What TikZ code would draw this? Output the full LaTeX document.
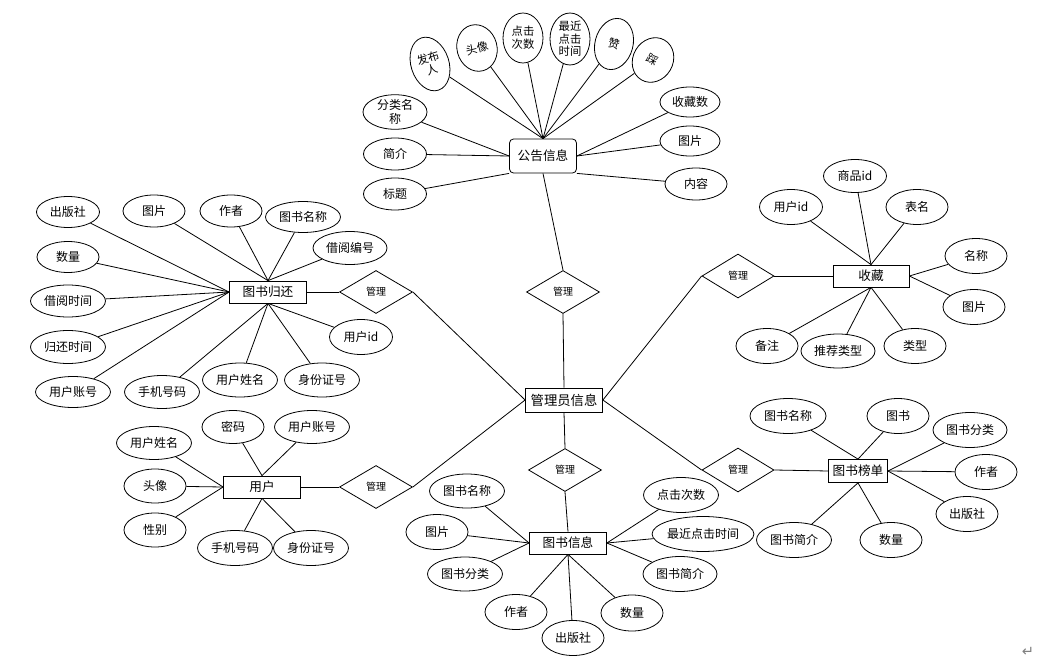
\documentclass[tikz,border=0pt]{standalone}
\usepackage{fontspec}
\setmainfont{Noto Sans CJK SC}
\newfontfamily\symfont{DejaVu Sans}
\usetikzlibrary{shapes.geometric}
\newdimen\px \px=0.75pt
\tikzset{
  attr/.style={ellipse,draw,line width=0.6pt,minimum width=62\px,minimum height=34\px,
    inner sep=0pt,align=center,font=\fontsize{9}{10}\selectfont},
  ent/.style={rectangle,draw,line width=0.6pt,minimum width=77\px,minimum height=22\px,
    inner sep=0pt,font=\fontsize{9.5}{11}\selectfont},
  rel/.style={diamond,draw,line width=0.6pt,minimum width=73\px,minimum height=43\px,
    inner sep=0pt,font=\fontsize{7.5}{8}\selectfont},
  conn/.style={line width=0.6pt},
}
\begin{document}
\begin{tikzpicture}[x=0.75pt,y=-0.75pt]
    \useasboundingbox (0,0) rectangle (1047,671);
    % --- centro: amministratore e relazioni ---
    \node[ent,minimum height=24\px,font=\fontsize{10}{12}\selectfont] (gly) at (564,400) {管理员信息};
    \node[rel] (r0) at (563,292) {管理};
    \node[rel] (r1) at (376,292) {管理};
    \node[rel] (r2) at (376,487) {管理};
    \node[rel] (r3) at (565,470) {管理};
    \node[rel,minimum width=72\px,minimum height=44\px] (r4) at (738,276) {管理};
    \node[rel,minimum width=72\px,minimum height=44\px] (r5) at (738,470) {管理};
    % --- (a) 公告信息 ---
    \node[ent,rounded corners=4\px,minimum width=67\px,minimum height=34\px] (gg) at (543,156) {公告信息};
    \foreach \n/\x/\y/\w/\h/\r/\t in {%
        gg1/430/64/38/55/18/{发布\\人}, gg2/477/48/40/47/15/头像,
        gg3/523/38/40/50/0/{点击\\次数}, gg4/570/39/40/52/0/{最近\\点击\\时间},
        gg5/614/44/38/52/-15/赞, gg6/653/60/40/46/-30/踩}{
      \node[attr,font=\fontsize{8.5}{9.5}\selectfont,minimum width=\w\px,minimum height=\h\px,rotate=\r] (\n) at (\x,\y) {\t};
    }
    \foreach \n/\x/\y/\w/\h/\t in {%
        gg7/395/112/64/32/{分类名\\称}, gg8/395/154/63/32/简介, gg9/395/194/63/32/标题,
        gg10/690/102/60/30/收藏数, gg11/690/141/60/30/图片, gg12/696/184/62/32/内容}{
      \node[attr,minimum width=\w\px,minimum height=\h\px] (\n) at (\x,\y) {\t};
    }
    \foreach \n/\a in {gg1/north,gg2/north,gg3/north,gg4/north,gg5/north,gg6/north,
        gg7/west,gg8/west,gg9/south west,gg10/east,gg11/east,gg12/south east}
      {\draw[conn] (\n) -- (gg.\a);}
    % --- (b) 图书归还 ---
    \node[ent] (gh) at (268,292) {图书归还};
    \foreach \n/\x/\y/\w/\h/\t in {%
        gh1/68/212/63/31/出版社, gh2/154/211/62/32/图片, gh3/231/211/62/32/作者,
        gh4/303/217/75/31/图书名称, gh5/350/248/74/33/借阅编号, gh6/68/257/62/31/数量,
        gh7/68/301/75/32/借阅时间, gh8/68/347/75/33/归还时间, gh9/73/392/75/31/用户账号,
        gh10/162/392/75/33/手机号码, gh11/240/380/75/34/用户姓名,
        gh12/322/380/75/34/身份证号, gh13/361/337/63/35/用户id}{
      \node[attr,minimum width=\w\px,minimum height=\h\px] (\n) at (\x,\y) {\t};
    }
    \foreach \n/\a in {gh1/west,gh2/north,gh3/north,gh4/north,gh5/north,gh6/west,
        gh7/west,gh8/west,gh9/west,gh10/south,gh11/south,gh12/south,gh13/south}
      {\draw[conn] (\n) -- (gh.\a);}
    % --- (c) 用户 ---
    \node[ent] (yh) at (262,487) {用户};
    \foreach \n/\x/\y/\w/\h/\t in {%
        yh1/233/427/62/33/密码, yh2/312/427/75/33/用户账号, yh3/154/443/75/33/用户姓名,
        yh4/155/486/62/34/头像, yh5/155/530/62/34/性别, yh6/235/548/75/35/手机号码,
        yh7/311/548/75/35/身份证号}{
      \node[attr,minimum width=\w\px,minimum height=\h\px] (\n) at (\x,\y) {\t};
    }
    \foreach \n/\a in {yh1/north,yh2/north,yh3/west,yh4/west,yh5/west,yh6/south,yh7/south}
      {\draw[conn] (\n) -- (yh.\a);}
    % --- (d) 图书信息 ---
    \node[ent] (ts) at (568,543) {图书信息};
    \foreach \n/\x/\y/\w/\h/\t in {%
        ts1/467/491/75/34/图书名称, ts2/437/532/62/35/图片, ts3/465/574/75/34/图书分类,
        ts4/516/612/62/35/作者, ts5/573/638/62/35/出版社, ts6/632/613/62/36/数量,
        ts7/680/574/74/35/图书简介, ts8/703/534/98/35/最近点击时间, ts9/681/495/75/35/点击次数}{
      \node[attr,minimum width=\w\px,minimum height=\h\px] (\n) at (\x,\y) {\t};
    }
    \foreach \n/\a in {ts1/west,ts2/west,ts3/west,ts4/south,ts5/south,ts6/south,
        ts7/east,ts8/east,ts9/east}
      {\draw[conn] (\n) -- (ts.\a);}
    % --- (e) 收藏 ---
    \node[ent,minimum width=76\px] (sc) at (871,276) {收藏};
    \foreach \n/\x/\y/\w/\h/\t in {%
        sc1/855/176/63/33/商品id, sc2/791/207/63/35/用户id, sc3/917/207/62/35/表名,
        sc4/976/256/62/35/名称, sc5/974/307/62/35/图片, sc6/915/346/62/35/类型,
        sc7/838/351/74/34/推荐类型, sc8/767/346/62/35/备注}{
      \node[attr,minimum width=\w\px,minimum height=\h\px] (\n) at (\x,\y) {\t};
    }
    \foreach \n/\a in {sc1/north,sc2/north,sc3/north,sc4/east,sc5/east,
        sc6/south,sc7/south,sc8/south}
      {\draw[conn] (\n) -- (sc.\a);}
    % --- (f) 图书榜单 ---
    \node[ent,minimum width=59\px,minimum height=23\px] (bd) at (858,471) {图书榜单};
    \foreach \n/\x/\y/\w/\h/\t in {%
        bd1/788/416/76/35/图书名称, bd2/898/416/62/35/图书, bd3/970/430/74/35/图书分类,
        bd4/986/472/62/35/作者, bd5/967/514/62/35/出版社, bd6/891/540/62/35/数量,
        bd7/794/540/75/35/图书简介}{
      \node[attr,minimum width=\w\px,minimum height=\h\px] (\n) at (\x,\y) {\t};
    }
    \foreach \n/\a in {bd1/north,bd2/north,bd3/east,bd4/east,bd5/east,bd6/south,bd7/south}
      {\draw[conn] (\n) -- (bd.\a);}
    % --- collegamenti tra entità e relazioni ---
    \draw[conn] (gg.south) -- (r0.north);
    \draw[conn] (r0.south) -- (gly.north);
    \draw[conn] (gly.south) -- (r3.north);
    \draw[conn] (r3.south) -- (ts.north);
    \draw[conn] (gh.east) -- (r1.west);
    \draw[conn] (r1.east) -- (gly.west);
    \draw[conn] (yh.east) -- (r2.west);
    \draw[conn] (r2.east) -- (gly.west);
    \draw[conn] (r4.east) -- (sc.west);
    \draw[conn] (r4.west) -- (gly.east);
    \draw[conn] (r5.east) -- (bd.west);
    \draw[conn] (r5.west) -- (gly.east);
    \node[text=gray,font=\symfont\fontsize{11}{12}\selectfont] (ret) at (1028,652) {↵};
\end{tikzpicture}
\end{document}
